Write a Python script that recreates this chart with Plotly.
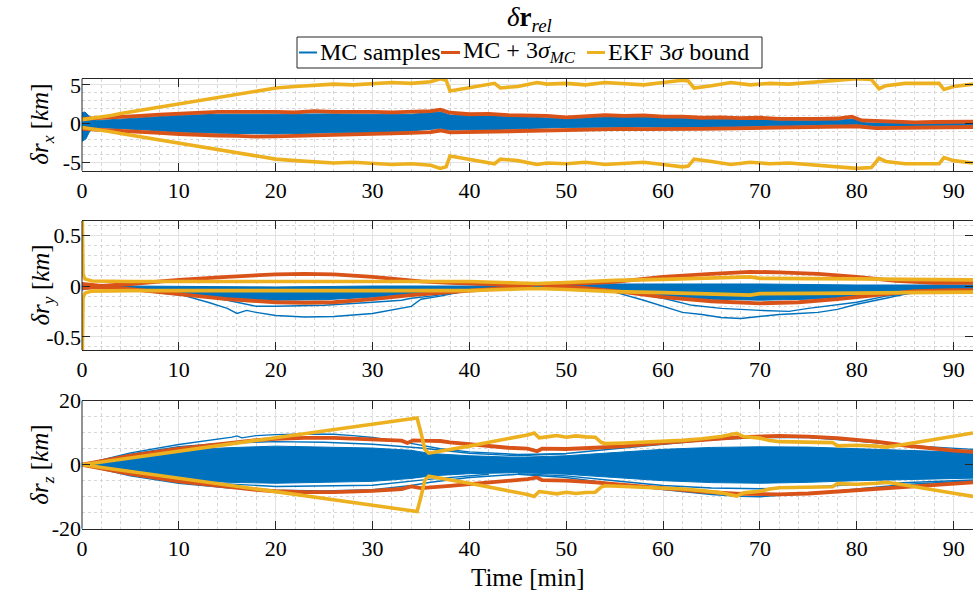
import plotly.graph_objects as go

W, H = 973, 593
ML, MR, MT, MB = 82, 0, 0, 0
BLUE, ORANGE, YELLOW = "#0072BD", "#D95319", "#EDB120"
FONT = "Liberation Serif, serif"
AXC = "#262626"

# ---------------- data ----------------
# Panel 1: δr_x [km]   (time [min], value)
X_EKF_SIGMA = [(0,0.5),(1,0.65),(2,0.85),(3,1.05),(4,1.3),(5,1.5),(6,1.75),(7,2.0),(8,2.2),(9,2.4),(10,2.6),
               (12,3.0),(14,3.4),(16,3.8),(18,4.2),(20,4.6),(22,4.8),(24,5.0),(26,5.1),(28,5.0),(30,5.2),
               (32,5.3),(34,5.2),(36,5.4),(37,5.8),(37.6,5.6),(38,4.2),(40,4.6),(42,5.1),(42.6,5.2),(43.2,4.6),
               (45,4.8),(47,5.3),(48,5.1),(50,5.2),(52,5.0),(54,5.3),(56,5.2),(58,5.0),(60,5.3),(62,5.6),
               (62.6,5.5),(63.2,4.6),(65,4.9),(67,5.3),(69,5.0),(71,5.2),(73,5.1),(75,5.3),(77,5.5),(79,5.7),
               (80,5.8),(81.5,5.7),(82.3,4.5),(83,4.9),(85,5.2),(87,5.2),(88.5,5.2),(89,4.4),(90,4.8),(92,5.1)]
X_MC_UP = [(0,0.6),(2,0.7),(4,0.85),(6,1.0),(8,1.15),(10,1.3),(12,1.4),(14,1.5),(16,1.5),(18,1.55),(20,1.5),
           (22,1.45),(24,1.6),(26,1.5),(28,1.55),(30,1.5),(32,1.45),(34,1.5),(36,1.6),(37,1.8),(38,1.4),(40,1.2),
           (42,1.25),(44,1.1),(46,1.05),(48,1.0),(50,0.8),(52,1.0),(54,1.1),(56,1.0),(58,1.05),(60,0.9),(62,0.9),
           (64,0.75),(66,0.8),(68,0.7),(70,0.75),(72,0.6),(74,0.55),(76,0.6),(78,0.65),(79.5,0.9),(80.5,0.4),
           (82,0.3),(84,0.2),(86,0.15),(88,0.2),(90,0.2),(92,0.25)]
X_MC_LO = [(0,-0.7),(2,-0.8),(4,-0.9),(6,-1.05),(8,-1.2),(10,-1.35),(12,-1.5),(14,-1.55),(16,-1.6),(18,-1.7),
           (20,-1.65),(22,-1.6),(24,-1.55),(26,-1.45),(28,-1.4),(30,-1.4),(32,-1.25),(34,-1.2),(36,-1.1),(37,-0.9),
           (38,-1.15),(40,-1.1),(42,-1.05),(44,-0.95),(46,-0.9),(48,-0.85),(50,-0.8),(52,-0.85),(54,-0.8),
           (56,-0.7),(58,-0.72),(60,-0.75),(62,-0.75),(64,-0.7),(66,-0.65),(68,-0.6),(70,-0.6),(72,-0.55),
           (74,-0.5),(76,-0.5),(78,-0.4),(80,-0.35),(82,-0.6),(84,-0.55),(86,-0.5),(88,-0.55),(90,-0.5),(92,-0.45)]
X_BLUE_UP = [(0,1.4),(0.3,1.5),(0.8,0.9),(1.5,0.4),(3,0.5),(6,0.75),(10,1.05),(14,1.2),(20,1.25),(26,1.25),
             (30,1.2),(34,1.2),(37,1.5),(38,1.1),(42,1.0),(46,0.85),(50,0.6),(54,0.85),(58,0.8),(62,0.65),
             (66,0.55),(70,0.5),(74,0.35),(78,0.4),(79.5,0.6),(81,0.1),(84,0.0),(88,0.0),(92,0.0)]
X_BLUE_LO = [(0,-2.3),(0.4,-2.0),(0.8,-1.0),(1.5,-0.5),(3,-0.6),(6,-0.8),(10,-1.1),(14,-1.25),(20,-1.35),
             (26,-1.2),(30,-1.15),(34,-0.95),(37,-0.65),(38,-0.85),(42,-0.8),(46,-0.65),(50,-0.5),(54,-0.5),
             (58,-0.45),(62,-0.5),(66,-0.4),(70,-0.35),(74,-0.25),(78,-0.15),(80,-0.1),(82,-0.35),(86,-0.3),(92,-0.25)]

# Panel 2: δr_y [km]
Y_EKF_SIGMA = [(0,0.9),(0.04,0.3),(0.1,0.12),(0.3,0.07),(1,0.05),(5,0.045),(10,0.045),(20,0.05),(30,0.05),
               (40,0.045),(45,0.03),(47,0.025),(50,0.035),(55,0.055),(60,0.065),(65,0.075),(69,0.09),(70,0.075),
               (75,0.075),(80,0.07),(85,0.065),(90,0.06),(92,0.06)]
Y_MC_UP = [(0,0.02),(2,0.0),(5,0.02),(10,0.06),(15,0.09),(20,0.115),(23,0.12),(26,0.115),(30,0.09),(33,0.06),
           (35,0.045),(38,0.03),(42,0.02),(45,0.01),(47,0.02),(50,0.02),(55,0.04),(60,0.09),(65,0.12),(69,0.14),
           (72,0.135),(76,0.12),(80,0.09),(84,0.05),(88,0.03),(92,0.03)]
Y_MC_LO = [(0,-0.02),(2,-0.01),(5,-0.03),(10,-0.08),(15,-0.13),(20,-0.16),(23,-0.165),(26,-0.16),(30,-0.13),
           (34,-0.09),(38,-0.06),(42,-0.03),(45,-0.01),(47,0.02),(49,-0.01),(52,-0.02),(56,-0.06),(60,-0.11),
           (65,-0.15),(70,-0.17),(74,-0.16),(78,-0.13),(82,-0.09),(86,-0.05),(90,-0.04),(92,-0.04)]
Y_BLUE_UP = [(0,0.03),(1,0.01),(5,0.0),(10,-0.005),(20,-0.01),(30,0.0),(40,0.0),(45,0.01),(50,0.01),(55,0.02),
             (60,0.02),(70,0.02),(80,0.01),(92,0.01)]
Y_BLUE_LO = [(0,-0.04),(1,-0.02),(5,-0.04),(10,-0.09),(15,-0.12),(20,-0.14),(25,-0.135),(30,-0.11),(35,-0.07),
             (40,-0.035),(45,-0.02),(50,-0.02),(55,-0.05),(60,-0.1),(65,-0.13),(70,-0.14),(75,-0.13),(80,-0.1),
             (85,-0.06),(92,-0.035)]
Y_SAMPLE_1 = [(5,-0.01),(10,-0.08),(13,-0.16),(15,-0.22),(16,-0.27),(17,-0.24),(18,-0.26),(20,-0.29),(23,-0.305),
              (26,-0.3),(30,-0.27),(33,-0.22),(34,-0.2),(35,-0.13),(37,-0.1),(40,-0.04),(43,0.0)]
Y_SAMPLE_2 = [(8,-0.02),(10,-0.05),(15,-0.14),(17,-0.18),(18,-0.2),(20,-0.2),(25,-0.19),(30,-0.16),(33,-0.14),
              (34,-0.12),(36,-0.1),(40,-0.05),(43,-0.02)]
Y_SAMPLE_3 = [(52,-0.01),(55,-0.06),(58,-0.14),(60,-0.2),(62,-0.26),(64,-0.28),(66,-0.31),(68,-0.32),(70,-0.3),
              (72,-0.28),(74,-0.27),(76,-0.26),(78,-0.23),(80,-0.18),(83,-0.12),(86,-0.06),(90,-0.03)]
Y_SAMPLE_4 = [(55,-0.04),(60,-0.12),(63,-0.19),(66,-0.22),(70,-0.24),(73,-0.25),(75,-0.22),(80,-0.16),
              (83,-0.1),(86,-0.07),(90,-0.04)]

# Panel 3: δr_z [km]
Z_EKF_SIGMA = [(0,0),(5,2.1),(10,4.2),(15,6.3),(20,8.4),(25,10.5),(30,12.6),(34.6,14.6),(35.0,10),(35.4,4.8),
               (35.8,3.6),(38,4.7),(40,5.8),(42,7.0),(44,8.1),(46,9.3),(46.7,9.9),(47.2,8.4),(48,8.7),(49,9.1),
               (50,8.6),(51,9.0),(52,8.7),(53,8.6),(53.6,7.0),(54,6.6),(56,6.8),(58,7.0),(60,7.3),(62,7.6),
               (64,8.1),(66,8.8),(67.6,9.8),(68.3,8.8),(70,8.3),(71,7.6),(72,7.2),(74,7.0),(76,7.0),(77.5,6.9),
               (78,5.9),(80,6.1),(82,5.8),(83,5.5),(84,5.9),(86,6.8),(88,7.9),(90,8.9),(92,9.9)]
Z_MC_UP = [(0,0),(5,2.8),(10,5.0),(15,6.8),(18,7.7),(20,8.1),(23,8.4),(26,8.4),(30,8.0),(33,7.5),(33.6,6.8),
           (34.2,7.6),(35,7.5),(37,7.4),(38,7.0),(40,6.4),(42,6.0),(44,5.3),(46,5.0),(47,4.2),(47.5,5.0),(50,4.9),
           (53,5.3),(56,5.8),(60,6.8),(64,7.8),(68,8.6),(72,9.0),(75,8.8),(78,8.3),(80,7.8),(82,7.2),(85,6.0),
           (88,5.0),(90,4.4),(92,4.0)]
Z_MC_LO = [(0,0),(5,-2.9),(10,-5.2),(15,-7.0),(18,-7.9),(20,-8.3),(23,-8.6),(26,-8.6),(30,-8.2),(33,-7.6),
           (34,-6.8),(35,-7.3),(37,-7.0),(38,-6.6),(40,-6.1),(42,-5.6),(44,-5.1),(46,-4.5),(47,-4.0),(47.5,-4.8),
           (50,-5.0),(53,-5.5),(56,-6.3),(60,-7.3),(64,-8.4),(68,-9.1),(72,-9.3),(75,-9.0),(78,-8.4),(80,-7.9),
           (82,-7.4),(85,-6.8),(88,-6.2),(90,-5.8),(92,-5.5)]
Z_BLUE_UP = [(0,0),(5,2.8),(10,4.5),(15,5.3),(20,5.8),(25,5.6),(30,5.2),(34,4.5),(36,3.5),(40,2.8),(45,2.3),
             (50,2.8),(55,3.8),(60,4.8),(65,5.4),(70,5.6),(75,5.5),(80,5.0),(85,4.5),(92,3.8)]
Z_BLUE_LO = [(0,0),(5,-3.0),(10,-4.8),(15,-5.5),(20,-5.8),(25,-5.6),(30,-5.2),(34,-4.3),(36,-3.5),(40,-2.8),
             (45,-2.5),(50,-3.0),(55,-4.0),(60,-5.0),(65,-5.6),(70,-5.8),(75,-5.5),(80,-5.0),(85,-4.6),(92,-4.2)]
Z_SAMPLE_1 = [(0,0),(5,3.7),(10,6.3),(14,7.9),(15.5,8.6),(16,9.0),(16.5,8.4),(18,9.1),(20,9.4),(23,9.6),(26,9.5),
              (28,9.1),(30,8.5),(33,7.2),(35,6.0),(37,5.0),(40,4.0),(45,3.2),(50,3.4)]
Z_SAMPLE_2 = [(0,0),(5,3.3),(10,5.6),(15,6.8),(20,7.2),(25,7.0),(30,6.4),(35,5.2),(40,3.6),(45,2.8)]
Z_SAMPLE_3 = [(0,0),(5,-3.5),(10,-5.8),(15,-7.2),(20,-8.0),(25,-8.2),(30,-7.8),(34,-6.5),(36,-5.5),(40,-4.0),(45,-3.0)]
Z_SAMPLE_4 = [(0,0),(10,-5.2),(20,-6.8),(30,-6.4),(36,-4.5),(42,-3.0)]
Z_SAMPLE_5 = [(45,2.8),(50,3.5),(55,5.0),(60,6.5),(65,7.8),(70,8.5),(75,8.5),(80,7.4),(85,6.0),(92,4.8)]
Z_SAMPLE_6 = [(45,-3.0),(50,-4.0),(55,-6.0),(60,-7.8),(65,-9.3),(68,-9.9),(70,-10.0),(73,-9.5),(76,-8.8),
              (80,-7.6),(85,-6.2),(92,-5.0)]
Z_SAMPLE_7 = [(45,-2.8),(50,-3.5),(55,-5.0),(60,-6.5),(65,-7.3),(70,-7.5),(75,-7.0),(80,-6.2),(92,-4.8)]

X_TICKS = [0, 10, 20, 30, 40, 50, 60, 70, 80, 90]
Y1_TICKS, Y1_TEXT = [-5, 0, 5], ["-5", "0", "5"]
Y2_TICKS, Y2_TEXT = [-0.5, 0, 0.5], ["-0.5", "0", "0.5"]
Y3_TICKS, Y3_TEXT = [-20, 0, 20], ["-20", "0", "20"]

LEG_NAMES = ["MC samples", "MC + 3<i>σ</i><sub><i>MC</i></sub>", "EKF 3<i>σ</i> bound"]
LEG_COLORS = [BLUE, ORANGE, YELLOW]

# ---------------- figure ----------------
def unzip(p):
    return [a for a, _ in p], [b for _, b in p]

fig = go.Figure()

def ax(row):
    return ("x" if row == 1 else f"x{row}"), ("y" if row == 1 else f"y{row}")

def line(pts, color, width, row, name, sign=1):
    t, v = unzip(pts)
    v = [sign * a for a in v]
    xa, ya = ax(row)
    fig.add_trace(go.Scatter(x=t, y=v, mode="lines", line=dict(color=color, width=width), name=name,
                             showlegend=False, xaxis=xa, yaxis=ya, hoverinfo="skip"))

def band(up, lo, row):
    tu, vu = unzip(up)
    tl, vl = unzip(lo)
    xa, ya = ax(row)
    fig.add_trace(go.Scatter(x=tu + tl[::-1], y=vu + vl[::-1], mode="lines", fill="toself", fillcolor=BLUE,
                             line=dict(color=BLUE, width=1), showlegend=False, hoverinfo="skip",
                             name="MC samples", xaxis=xa, yaxis=ya))

BW, OW, YW = 1.4, 3.8, 3.6
N0, N1, N2 = "MC samples", "MC + 3σ_MC", "EKF 3σ bound"

# panel 1
band(X_BLUE_UP, X_BLUE_LO, 1)
line(X_MC_UP, ORANGE, OW, 1, N1)
line(X_MC_LO, ORANGE, OW, 1, N1)
line(X_EKF_SIGMA, YELLOW, YW, 1, N2)
line(X_EKF_SIGMA, YELLOW, YW, 1, N2, sign=-1)
# panel 2
band(Y_BLUE_UP, Y_BLUE_LO, 2)
for s in (Y_SAMPLE_1, Y_SAMPLE_2, Y_SAMPLE_3, Y_SAMPLE_4):
    line(s, BLUE, BW, 2, N0)
line(Y_MC_UP, ORANGE, OW, 2, N1)
line(Y_MC_LO, ORANGE, OW, 2, N1)
line(Y_EKF_SIGMA, YELLOW, YW, 2, N2)
line(Y_EKF_SIGMA, YELLOW, YW, 2, N2, sign=-1)
# panel 3
band(Z_BLUE_UP, Z_BLUE_LO, 3)
for s in (Z_SAMPLE_1, Z_SAMPLE_2, Z_SAMPLE_3, Z_SAMPLE_4, Z_SAMPLE_5, Z_SAMPLE_6, Z_SAMPLE_7):
    line(s, BLUE, BW, 3, N0)
line(Z_MC_UP, ORANGE, OW, 3, N1)
line(Z_MC_LO, ORANGE, OW, 3, N1)
line(Z_EKF_SIGMA, YELLOW, YW, 3, N2)
line(Z_EKF_SIGMA, YELLOW, YW, 3, N2, sign=-1)

PW = W - ML - MR
def px_x(px): return (px - ML) / PW
def px_y(py): return 1 - py / H
def dom(top, bottom): return [px_y(bottom), px_y(top)]

PANELS = [(78.7, 170.7), (221, 350), (400.7, 528.7)]

TICKF = dict(family=FONT, size=22, color="#000000")
common_x = dict(range=[0, 92.0], tickvals=X_TICKS, ticks="inside", ticklen=8, tickwidth=1, tickcolor=AXC,
                showline=True, linecolor=AXC, linewidth=1, mirror="ticks", showgrid=True, gridcolor="#e2e2e2",
                gridwidth=1, zeroline=False, tickfont=TICKF,
                minor=dict(dtick=2, tick0=0, showgrid=True, gridcolor="#d6d6d6", griddash="dot", gridwidth=1))
common_y = dict(ticks="inside", ticklen=8, tickwidth=1, tickcolor=AXC, showline=False, mirror="ticks",
                showgrid=True, gridcolor="#e2e2e2", gridwidth=1, zeroline=False, tickfont=TICKF)

fig.update_layout(
    width=W, height=H, margin=dict(l=ML, r=MR, t=MT, b=MB, autoexpand=False),
    paper_bgcolor="white", plot_bgcolor="white", showlegend=False,
    font=dict(family=FONT, size=22, color="#000000"),
    xaxis=dict(common_x, anchor="y", domain=[0, 1]),
    xaxis2=dict(common_x, anchor="y2", domain=[0, 1]),
    xaxis3=dict(common_x, anchor="y3", domain=[0, 1]),
    yaxis=dict(common_y, anchor="x", domain=dom(*PANELS[0]), range=[-6.1, 5.8], tickvals=Y1_TICKS,
               ticktext=Y1_TEXT, minor=dict(dtick=1, tick0=0, showgrid=True, gridcolor="#d6d6d6", griddash="dot")),
    yaxis2=dict(common_y, anchor="x2", domain=dom(*PANELS[1]), range=[-0.63, 0.64], tickvals=Y2_TICKS,
                ticktext=Y2_TEXT, minor=dict(dtick=0.1, tick0=0, showgrid=True, gridcolor="#d6d6d6", griddash="dot")),
    yaxis3=dict(common_y, anchor="x3", domain=dom(*PANELS[2]), range=[-20, 20], tickvals=Y3_TICKS,
                ticktext=Y3_TEXT, minor=dict(dtick=5, tick0=0, showgrid=True, gridcolor="#d6d6d6", griddash="dot")),
)

shapes, ann = [], []
# left axis lines (right edge of the axes box falls just outside the picture)
for k in ("", "2", "3"):
    shapes.append(dict(type="line", xref=f"x{k} domain", yref=f"y{k} domain", x0=0, x1=0, y0=0, y1=1,
                       line=dict(color=AXC, width=1), layer="above"))
# legend box (drawn as shapes + text)
LEG_BOX = (297, 37, 762, 68)
LEG_ITEMS = [(299, 317), (441, 460), (587, 605)]
shapes.append(dict(type="rect", xref="paper", yref="paper", x0=px_x(LEG_BOX[0]), x1=px_x(LEG_BOX[2]),
                   y0=px_y(LEG_BOX[3]), y1=px_y(LEG_BOX[1]), line=dict(color=AXC, width=1), fillcolor="white"))
ly = px_y(52.5)
for (a, b), c, name in zip(LEG_ITEMS, LEG_COLORS, LEG_NAMES):
    shapes.append(dict(type="line", xref="paper", yref="paper", x0=px_x(a), x1=px_x(b), y0=ly, y1=ly,
                       line=dict(color=c, width=3 if c != BLUE else 2)))
    ann.append(dict(text=name, x=px_x(b + 1), y=px_y(51.5), xref="paper", yref="paper", showarrow=False,
                    xanchor="left", yanchor="middle", font=dict(family=FONT, size=24)))

ann.append(dict(text="<i>δ</i><b>r</b><sub><i>rel</i></sub>", x=px_x(529), y=px_y(19), xref="paper", yref="paper",
                showarrow=False, xanchor="center", yanchor="middle", font=dict(family=FONT, size=27)))
for lbl, (top, bot) in zip(["x", "y", "z"], PANELS):
    ann.append(dict(text=f"<i>δr</i><sub><i>{lbl}</i></sub> [<i>km</i>]", x=px_x(42), y=px_y((top + bot) / 2),
                    xref="paper", yref="paper", showarrow=False, textangle=-90, xanchor="center",
                    yanchor="middle", font=dict(family=FONT, size=25)))
ann.append(dict(text="Time [min]", x=px_x(528), y=px_y(577), xref="paper", yref="paper", showarrow=False,
                xanchor="center", yanchor="middle", font=dict(family=FONT, size=25)))
fig.update_layout(annotations=ann, shapes=shapes)

fig.write_html("out.html")
